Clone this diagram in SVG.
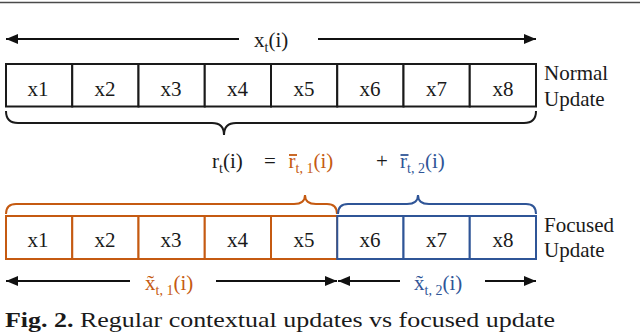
<svg xmlns="http://www.w3.org/2000/svg" width="640" height="332" viewBox="0 0 640 332" font-family="'Liberation Serif', 'DejaVu Serif', serif">
<defs>
<style>
text{font-family:'Liberation Serif','DejaVu Serif',serif;fill:#1a1a1a;font-size:21px}
.c{text-anchor:middle}
.sub{font-size:14px}
.or{fill:#C55A11}
.bl{fill:#2F5597}
.cell{fill:#fff;stroke-width:2}
.k{stroke:#1a1a1a}
.o{stroke:#C55A11}
.b{stroke:#2F5597}
.brace{fill:none;stroke-width:2}
.arr{stroke:#111;stroke-width:2;fill:none}
</style>
<marker id="ah" viewBox="0 0 12 10" refX="12" refY="5" markerWidth="12" markerHeight="10" markerUnits="userSpaceOnUse" orient="auto-start-reverse">
<path d="M0,0 L12,5 L0,10 z" fill="#111"/>
</marker>
</defs>
<rect width="640" height="332" fill="#fff"/>
<line x1="0" y1="2.5" x2="640" y2="2.5" stroke="#4a4a4a" stroke-width="1.5"/>

<g id="connectors">
<line class="arr" x1="239" y1="39" x2="6" y2="39" marker-end="url(#ah)"/>
<line class="arr" x1="318" y1="39" x2="536" y2="39" marker-end="url(#ah)"/>
<line class="arr" x1="130" y1="281" x2="6" y2="281" marker-end="url(#ah)"/>
<line class="arr" x1="216" y1="281" x2="337" y2="281" marker-end="url(#ah)"/>
<line class="arr" x1="400" y1="281" x2="338" y2="281" marker-end="url(#ah)"/>
<line class="arr" x1="485" y1="281" x2="536" y2="281" marker-end="url(#ah)"/>
<path class="brace k" d="M6,111 Q6,123 18,123 L212,123 Q224,123 224,135 Q224,123 236,123 L524,123 Q536,123 536,111"/>
<path class="brace o" d="M6,214 Q6,204 16,204 L294,204 Q305,204 305,195 Q305,204 316,204 L327,204 Q337,204 337,214"/>
<path class="brace b" d="M338,214 Q338,204 348,204 L407,204 Q418,204 418,195 Q418,204 429,204 L526,204 Q536,204 536,214"/>
</g>

<g id="label-xt">
<text x="254" y="47">x<tspan class="sub" dy="5">t</tspan><tspan dy="-5">(i)</tspan></text>
</g>

<g id="normal-row">
<rect class="cell k" x="6" y="64" width="66.25" height="42.5"/>
<rect class="cell k" x="72.25" y="64" width="66.25" height="42.5"/>
<rect class="cell k" x="138.5" y="64" width="66.25" height="42.5"/>
<rect class="cell k" x="204.75" y="64" width="66.25" height="42.5"/>
<rect class="cell k" x="271" y="64" width="66.25" height="42.5"/>
<rect class="cell k" x="337.25" y="64" width="66.25" height="42.5"/>
<rect class="cell k" x="403.5" y="64" width="66.25" height="42.5"/>
<rect class="cell k" x="469.75" y="64" width="66.25" height="42.5"/>
<text class="c" x="38" y="96">x1</text>
<text class="c" x="105" y="96">x2</text>
<text class="c" x="171" y="96">x3</text>
<text class="c" x="237.5" y="96">x4</text>
<text class="c" x="304" y="96">x5</text>
<text class="c" x="370" y="96">x6</text>
<text class="c" x="436.5" y="96">x7</text>
<text class="c" x="503" y="96">x8</text>
</g>
<g id="normal-label">
<text x="544" y="80">Normal</text>
<text x="544" y="106">Update</text>
</g>

<g id="formula">
<text x="212" y="168">r<tspan class="sub" dy="5">t</tspan><tspan dy="-5">(i)</tspan></text>
<text x="264" y="168">=</text>
<line x1="289" y1="155" x2="297" y2="155" stroke="#C55A11" stroke-width="1.8"/>
<text class="or" x="288.5" y="168">r<tspan class="sub" dy="5">t, 1</tspan><tspan dy="-5">(i)</tspan></text>
<text x="376" y="168">+</text>
<line x1="400.5" y1="155" x2="408.5" y2="155" stroke="#2F5597" stroke-width="1.8"/>
<text class="bl" x="400" y="168">r<tspan class="sub" dy="5">t, 2</tspan><tspan dy="-5">(i)</tspan></text>
</g>

<g id="focused-row">
<rect class="cell o" x="6" y="216" width="66.25" height="43"/>
<rect class="cell o" x="72.25" y="216" width="66.25" height="43"/>
<rect class="cell o" x="138.5" y="216" width="66.25" height="43"/>
<rect class="cell o" x="204.75" y="216" width="66.25" height="43"/>
<rect class="cell o" x="271" y="216" width="66.25" height="43"/>
<rect class="cell b" x="337.25" y="216" width="66.25" height="43"/>
<rect class="cell b" x="403.5" y="216" width="66.25" height="43"/>
<rect class="cell b" x="469.75" y="216" width="66.25" height="43"/>
<text class="c" x="38" y="247">x1</text>
<text class="c" x="105" y="247">x2</text>
<text class="c" x="171" y="247">x3</text>
<text class="c" x="237.5" y="247">x4</text>
<text class="c" x="304" y="247">x5</text>
<text class="c" x="370" y="247">x6</text>
<text class="c" x="436.5" y="247">x7</text>
<text class="c" x="503" y="247">x8</text>
</g>
<g id="focused-label">
<text x="544" y="232">Focused</text>
<text x="544" y="257">Update</text>
</g>

<g id="label-x1">
<text class="or" x="145" y="290">x̃<tspan class="sub" dy="5">t, 1</tspan><tspan dy="-5">(i)</tspan></text>
</g>
<g id="label-x2">
<text class="bl" x="414" y="290">x̃<tspan class="sub" dy="5">t, 2</tspan><tspan dy="-5">(i)</tspan></text>
</g>

<g id="caption">
<text x="5" y="327" font-size="20" textLength="550" lengthAdjust="spacingAndGlyphs"><tspan font-weight="bold">Fig. 2.</tspan> Regular contextual updates vs focused update</text>
</g>
</svg>
